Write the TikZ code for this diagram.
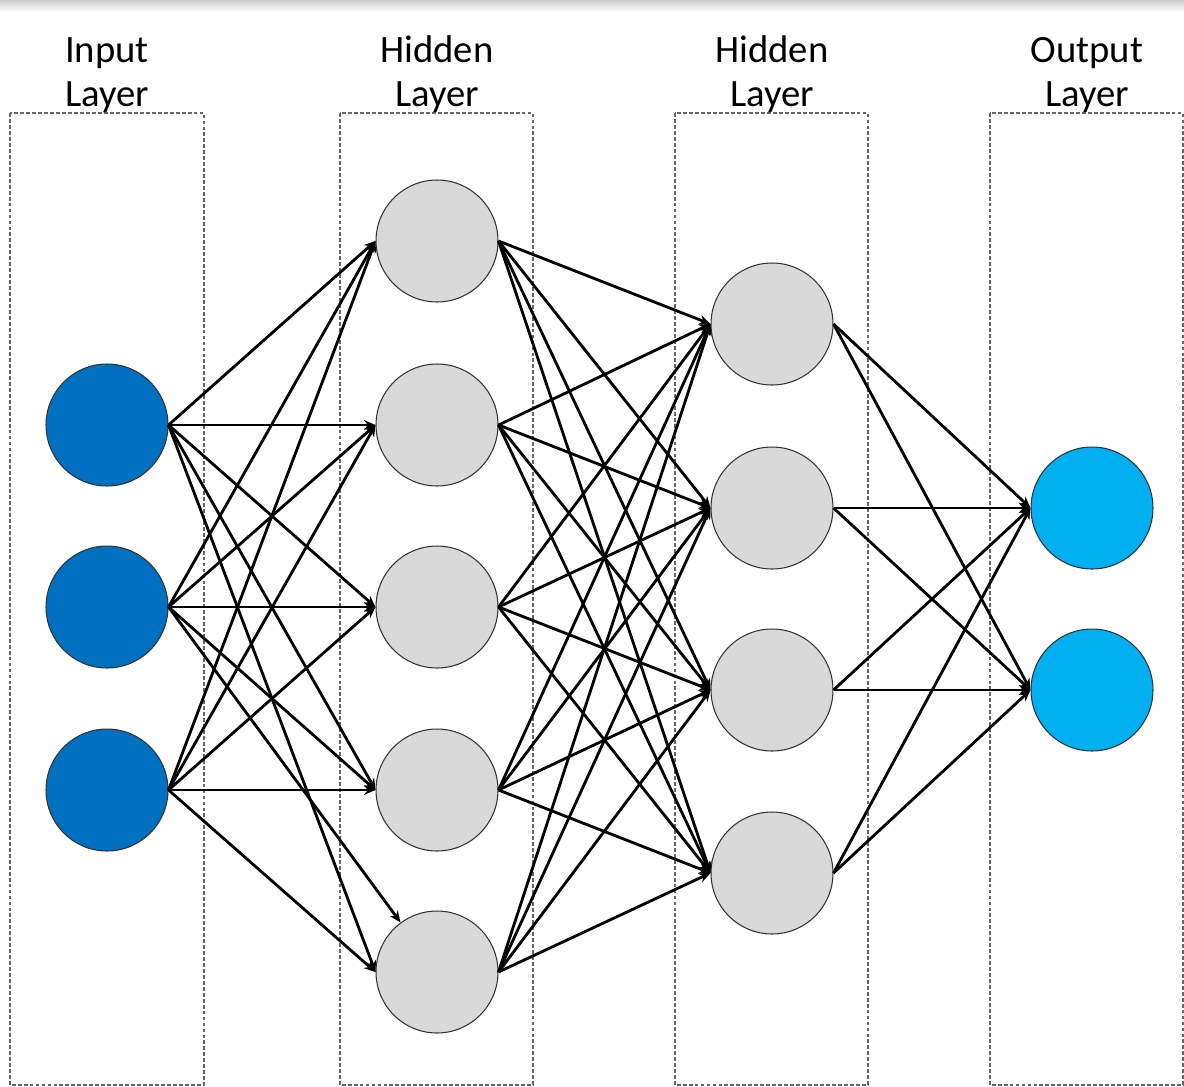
\documentclass[tikz,border=0pt]{standalone}
\usepackage{fontspec}
\setmainfont{Carlito}
\usepackage{xcolor}
\definecolor{ColIn}{RGB}{0,112,192}
\definecolor{ColOut}{RGB}{0,176,240}
\definecolor{ColHid}{RGB}{217,217,217}
\usetikzlibrary{arrows.meta}
\tikzstyle{Neuron}=[circle,draw=black!80,line width=.6pt,inner sep=0pt,
minimum size=2.44cm]
\tikzstyle{NodeIn}=[Neuron,fill=ColIn]
\tikzstyle{NodeHid}=[Neuron,fill=ColHid]
\tikzstyle{NodeOut}=[Neuron,fill=ColOut]
\tikzstyle{Edge}=[draw=black,line width=1.6pt,-{Stealth[length=6.5pt,width=5.5pt]}]
\tikzstyle{LayerBox}=[draw=black!60,line width=.8pt,dash pattern=on 2.2pt off 1.2pt]
\tikzstyle{LayerLabel}=[font=\fontsize{22}{25}\selectfont,align=center,
inner sep=0pt,anchor=south]

\begin{document}
\begin{tikzpicture}[x=0.02cm,y=-0.02cm]
            \useasboundingbox(0,0)rectangle(1184,1086);
            \shade[top color=black!20,bottom color=white](0,0)rectangle(1184,12);
            % layer frames
            \draw[LayerBox](10,113)rectangle(204,1085);
            \draw[LayerBox](340,113)rectangle(533,1085);
            \draw[LayerBox](675,113)rectangle(868,1085);
            \draw[LayerBox](990,113)rectangle(1183,1085);
            \node[LayerLabel](lab1)at(107,113){Input\\Layer};
            \node[LayerLabel](lab2)at(437,113){Hidden\\Layer};
            \node[LayerLabel](lab3)at(772,113){Hidden\\Layer};
            \node[LayerLabel](lab4)at(1087,113){Output\\Layer};
            % neurons
            \node[NodeIn](in1)at(107,425){};
            \node[NodeIn](in2)at(107,607){};
            \node[NodeIn](in3)at(107,790){};
            \node[NodeHid](hA1)at(437,241){};
            \node[NodeHid](hA2)at(437,425){};
            \node[NodeHid](hA3)at(437,607){};
            \node[NodeHid](hA4)at(437,790){};
            \node[NodeHid](hA5)at(437,972){};
            \node[NodeHid](hB1)at(772,324){};
            \node[NodeHid](hB2)at(772,508){};
            \node[NodeHid](hB3)at(772,690){};
            \node[NodeHid](hB4)at(772,873){};
            \node[NodeOut](out1)at(1092,508){};
            \node[NodeOut](out2)at(1092,690){};
            % input -> first hidden
            \draw[Edge](in1.east)--(hA1.west);
            \draw[Edge](in1.east)--(hA2.west);
            \draw[Edge](in1.east)--(hA3.west);
            \draw[Edge](in1.east)--(hA4.west);
            \draw[Edge](in1.east)--(hA5.west);
            \draw[Edge](in2.east)--(hA1.west);
            \draw[Edge](in2.east)--(hA2.west);
            \draw[Edge](in2.east)--(hA3.west);
            \draw[Edge](in2.east)--(hA4.west);
            \draw[Edge](in2.east)--(hA5);
            \draw[Edge](in3.east)--(hA1.west);
            \draw[Edge](in3.east)--(hA2.west);
            \draw[Edge](in3.east)--(hA3.west);
            \draw[Edge](in3.east)--(hA4.west);
            \draw[Edge](in3.east)--(hA5.west);
            % first hidden -> second hidden
            \draw[Edge](hA1.east)--(hB1.west);
            \draw[Edge](hA1.east)--(hB2.west);
            \draw[Edge](hA1.east)--(hB3.west);
            \draw[Edge](hA1.east)--(hB4.west);
            \draw[Edge](hA2.east)--(hB1.west);
            \draw[Edge](hA2.east)--(hB2.west);
            \draw[Edge](hA2.east)--(hB3.west);
            \draw[Edge](hA2.east)--(hB4.west);
            \draw[Edge](hA3.east)--(hB1.west);
            \draw[Edge](hA3.east)--(hB2.west);
            \draw[Edge](hA3.east)--(hB3.west);
            \draw[Edge](hA3.east)--(hB4.west);
            \draw[Edge](hA4.east)--(hB1.west);
            \draw[Edge](hA4.east)--(hB2.west);
            \draw[Edge](hA4.east)--(hB3.west);
            \draw[Edge](hA4.east)--(hB4.west);
            \draw[Edge](hA5.east)--(hB1.west);
            \draw[Edge](hA5.east)--(hB2.west);
            \draw[Edge](hA5.east)--(hB3.west);
            \draw[Edge](hA5.east)--(hB4.west);
            % second hidden -> output
            \draw[Edge](hB1.east)--(out1.west);
            \draw[Edge](hB1.east)--(out2.west);
            \draw[Edge](hB2.east)--(out1.west);
            \draw[Edge](hB2.east)--(out2.west);
            \draw[Edge](hB3.east)--(out1.west);
            \draw[Edge](hB3.east)--(out2.west);
            \draw[Edge](hB4.east)--(out1.west);
            \draw[Edge](hB4.east)--(out2.west);
        \end{tikzpicture}
\end{document}
